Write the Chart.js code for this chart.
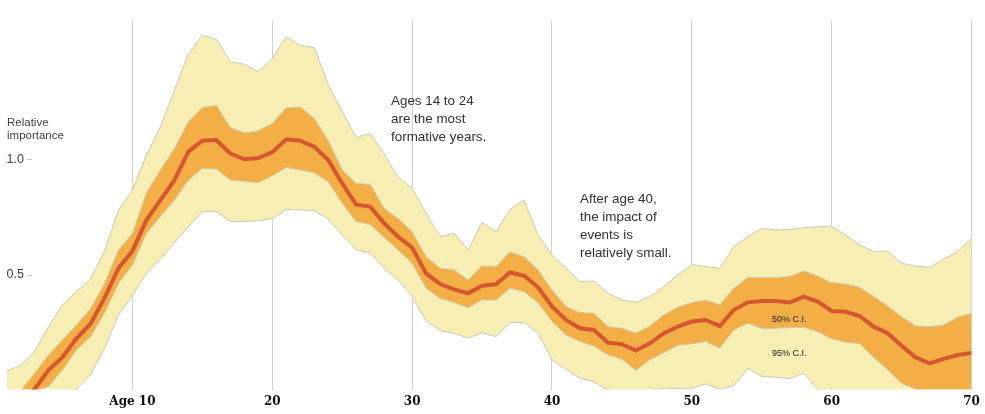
<!DOCTYPE html>
<html>
<head>
<meta charset="utf-8">
<style>
    body { margin: 0; background: #fff; }
    canvas { display: block; }
</style>
<script src="https://cdn.jsdelivr.net/npm/chart.js@4"></script>
</head>
<body>
<canvas id="myChart" width="985" height="414"></canvas>
<script>
const ages = [1, 2, 3, 4, 5, 6, 7, 8, 9, 10,
    11, 12, 13, 14, 15, 16, 17, 18, 19, 20,
    21, 22, 23, 24, 25, 26, 27, 28, 29, 30,
    31, 32, 33, 34, 35, 36, 37, 38, 39, 40,
    41, 42, 43, 44, 45, 46, 47, 48, 49, 50,
    51, 52, 53, 54, 55, 56, 57, 58, 59, 60,
    61, 62, 63, 64, 65, 66, 67, 68, 69, 70];

const upper95 = [.083, .112, .170, .277, .371, .428, .483, .601, .780, .866,
    1.017, 1.139, 1.297, 1.455, 1.534, 1.517, 1.420, 1.409, 1.376, 1.434,
    1.527, 1.491, 1.481, 1.320, 1.205, 1.093, 1.111, 1.022, .921, .874,
    .766, .665, .680, .608, .726, .687, .783, .823, .672, .586,
    .529, .471, .474, .421, .392, .382, .407, .450, .500, .546,
    .536, .529, .622, .665, .701, .694, .697, .704, .708, .711,
    .672, .629, .601, .603, .550, .539, .533, .568, .601, .658];

const upper50 = [0, 0, .076, .155, .220, .285, .354, .463, .607, .679,
    .855, .953, 1.045, 1.161, 1.222, 1.231, 1.136, 1.113, 1.122, 1.154,
    1.221, 1.225, 1.175, 1.080, .953, .895, .891, .787, .744, .687,
    .579, .529, .522, .478, .539, .536, .599, .579, .522, .435,
    .364, .338, .335, .277, .270, .249, .280, .328, .361, .381,
    .392, .371, .443, .489, .489, .489, .493, .517, .496, .467,
    .461, .447, .407, .366, .320, .280, .277, .284, .318, .335];

const median = [null, -.05, .007, .090, .145, .227, .289, .400, .529, .604,
    .737, .823, .909, 1.032, 1.079, 1.082, 1.024, .999, 1.004, 1.030,
    1.085, 1.079, 1.053, .996, .895, .803, .795, .723, .665, .618,
    .507, .461, .438, .421, .454, .460, .511, .497, .447, .364,
    .306, .270, .263, .208, .201, .174, .205, .249, .277, .299,
    .306, .280, .349, .382, .388, .388, .381, .407, .385, .345,
    .341, .323, .277, .249, .195, .145, .119, .138, .155, .164];

const lower50 = [0, 0, 0, .019, .091, .177, .234, .335, .464, .543,
    .680, .752, .823, .909, .960, .957, .909, .904, .898, .928,
    .964, .953, .941, .902, .809, .730, .718, .662, .608, .550,
    .443, .399, .381, .359, .392, .392, .443, .428, .381, .299,
    .241, .213, .194, .155, .136, .088, .134, .165, .197, .203,
    .213, .184, .263, .292, .270, .270, .274, .274, .256, .224,
    .210, .204, .145, .091, .033, .007, 0, 0, 0, 0];

const lower95 = [0, 0, 0, 0, 0, .007, .070, .184, .328, .413,
    .507, .568, .640, .709, .773, .773, .731, .731, .734, .743,
    .783, .780, .779, .741, .672, .608, .596, .529, .478, .407,
    .303, .260, .249, .227, .251, .234, .295, .295, .249, .134,
    .093, .055, .040, .004, 0, 0, 0, .012, .010, .012,
    .030, .007, .022, .098, .062, .059, .053, .076, .007, 0,
    0, 0, 0, 0, 0, 0, 0, 0, 0, 0];

const xTickValues = [10, 20, 30, 40, 50, 60, 70];
const yTickValues = [0.5, 1.0];

const notes = [
    {lines: ['Ages 14 to 24', 'are the most', 'formative years.'], x: 391, y: 105, step: 18, font: '13.4px "Liberation Sans"', color: '#333'},
    {lines: ['After age 40,', 'the impact of', 'events is', 'relatively small.'], x: 580, y: 203, step: 18, font: '13.4px "Liberation Sans"', color: '#333'},
    {lines: ['Relative', 'importance'], x: 7, y: 126, step: 13, font: '11.5px "Liberation Sans"', color: '#444'},
    {lines: ['50% C.I.'], x: 772, y: 322, step: 0, font: '9px "Liberation Sans"', color: '#222'},
    {lines: ['95% C.I.'], x: 772, y: 356, step: 0, font: '9px "Liberation Sans"', color: '#222'}
];

// text notes and the little dashes next to the y labels
const notesPlugin = {
    id: 'notes',
    afterDraw(chart) {
        const ctx = chart.ctx;
        ctx.save();
        ctx.strokeStyle = '#ccc';
        ctx.lineWidth = 1;
        yTickValues.forEach(v => {
            const y = Math.round(chart.scales.y.getPixelForValue(v)) + 0.5;
            ctx.beginPath();
            ctx.moveTo(27, y);
            ctx.lineTo(32, y);
            ctx.stroke();
        });
        ctx.textAlign = 'left';
        ctx.textBaseline = 'alphabetic';
        notes.forEach(n => {
            ctx.font = n.font;
            ctx.fillStyle = n.color;
            n.lines.forEach((line, i) => ctx.fillText(line, n.x, n.y + i * n.step));
        });
        ctx.restore();
    }
};

const edge = '#cfcbb2';

new Chart(document.querySelector('#myChart'), {
    type: 'line',
    data: {
        labels: ages,
        datasets: [
            {label: 'Median', data: median, borderColor: '#d6562f', borderWidth: 4, borderJoinStyle: 'miter', fill: false},
            {label: '50% upper', data: upper50, borderColor: edge, borderWidth: 1, backgroundColor: '#f3ae46', fill: 2},
            {label: '50% lower', data: lower50, borderColor: edge, borderWidth: 1, fill: false},
            {label: '95% upper', data: upper95, borderColor: edge, borderWidth: 1, backgroundColor: '#f6eeb3', fill: 4},
            {label: '95% lower', data: lower95, borderColor: edge, borderWidth: 1, fill: false}
        ]
    },
    options: {
        responsive: false,
        animation: false,
        layout: {padding: {left: 6.6, right: 13.5, top: 20, bottom: 0}},
        elements: {point: {radius: 0}, line: {tension: 0}},
        scales: {
            x: {
                type: 'linear',
                min: 1,
                max: 70,
                afterBuildTicks: s => { s.ticks = xTickValues.map(v => ({value: v})); },
                afterFit: s => { s.height = 24.5; },
                border: {display: false},
                grid: {color: '#d2d2d2', lineWidth: 1, drawTicks: false},
                ticks: {
                    maxRotation: 0,
                    padding: 5,
                    color: '#111',
                    font: {family: '"DejaVu Serif"', size: 12, weight: 'bold'},
                    callback: v => v === 10 ? 'Age 10' : String(v)
                }
            },
            y: {
                min: 0.006,
                max: 1.6,
                afterBuildTicks: s => { s.ticks = yTickValues.map(v => ({value: v})); },
                afterFit: s => { s.width = 0; },
                border: {display: false},
                grid: {display: false},
                ticks: {
                    mirror: true,
                    padding: 0,
                    color: '#444',
                    font: {family: '"Liberation Sans"', size: 12.5},
                    callback: v => v.toFixed(1)
                }
            }
        },
        plugins: {
            legend: {display: false},
            tooltip: {enabled: false},
            filler: {drawTime: 'beforeDatasetsDraw'}
        }
    },
    plugins: [notesPlugin]
});
</script>
</body>
</html>
